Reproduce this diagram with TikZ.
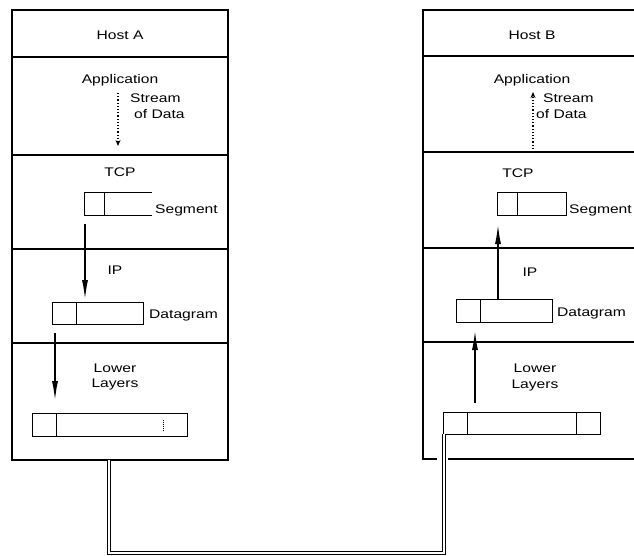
\documentclass[tikz,border=0pt]{standalone}
\usepackage{fontspec}
\setmainfont{Liberation Sans}[FakeStretch=1.25]
\usetikzlibrary{arrows.meta}
\begin{document}
\begin{tikzpicture}[x=1pt,y=-1pt,
  frame/.style={line width=1.1pt},
  divider/.style={line width=1.4pt},
  pkt/.style={line width=1pt, minimum height=22pt, inner sep=0pt, outer sep=0pt, anchor=north west},
  flow/.style={line width=2.2pt, -{Latex[length=22pt,width=6pt]}},
  stream/.style={line width=1.2pt, dotted, -{Stealth[length=6pt,width=5pt]}},
  lbl/.style={font=\fontsize{12.5}{14}\selectfont, inner sep=0pt},
  cable/.style={line width=0.9pt, double, double distance=2.2pt},
]
\useasboundingbox (0,0) rectangle (634,556);

% ---------- Host A ----------
\node[draw, frame, minimum width=216pt, minimum height=450pt, anchor=north west, inner sep=0pt, outer sep=0pt] (hostA) at (12,10) {};
\draw[divider] (12,57) -- (228,57);
\draw[divider] (12,155) -- (228,155);
\draw[divider] (12,249) -- (228,249);
\draw[divider] (12,343) -- (228,343);

\node[lbl] (hAt) at (120,35) {Host A};
\node[lbl] (hAapp) at (120,80) {Application};
\node[lbl, anchor=west] (hAs1) at (130,98) {Stream};
\node[lbl, anchor=west] (hAs2) at (134,114) {of Data};
\node[lbl] (hAtcp) at (120,172) {TCP};
\node[lbl] (hAip) at (115,270) {IP};
\node[lbl] (hAl1) at (115,368) {Lower};
\node[lbl] (hAl2) at (115,384) {Layers};

\coordinate (sAtop) at (118,93);
\coordinate (sAbot) at (118,146);
\draw[stream] (sAtop) -- (sAbot);

% segment A (open right side)
\node[pkt, minimum width=68pt] (segA) at (84,193) {};
\draw[pkt] (segA.north east) -- (segA.north west) -- (segA.south west) -- (segA.south east);
\draw[pkt] ([xshift=20pt]segA.north west) -- ([xshift=20pt]segA.south west);
\node[lbl, anchor=west] (segAl) at (155,210) {Segment};

% datagram A
\node[pkt, draw, minimum width=91pt] (dgA) at (52,302) {};
\draw[pkt] ([xshift=24pt]dgA.north west) -- ([xshift=24pt]dgA.south west);
\node[lbl, anchor=west] (dgAl) at (149,315) {Datagram};

% frame A
\node[pkt, draw, minimum width=155pt, minimum height=23pt] (frA) at (32,413) {};
\draw[pkt] ([xshift=24pt]frA.north west) -- ([xshift=24pt]frA.south west);
\draw[pkt, densely dotted] ([xshift=131pt]frA.north west) ++(0,7) -- ++(0,12);

\draw[flow, shorten <=9pt] (85,0 |- segA.south) -- (85,0 |- dgA.north);
\draw[flow, shorten <=9pt, shorten >=10pt] (55,0 |- dgA.south) -- (55,0 |- frA.north);

% ---------- Host B ----------
\coordinate (hBnotch) at (437,459);
\draw[frame] (hBnotch) -- (423,459) -- (423,10) -- (640,10);
\draw[frame] (448,459) -- (640,459);
\draw[divider] (423,56) -- (640,56);
\draw[divider] (423,152) -- (640,152);
\draw[divider] (423,248) -- (640,248);
\draw[divider] (423,342) -- (640,342);

\node[lbl] (hBt) at (532,35) {Host B};
\node[lbl] (hBapp) at (532,80) {Application};
\node[lbl, anchor=west] (hBs1) at (543,98) {Stream};
\node[lbl, anchor=west] (hBs2) at (536,114) {of Data};
\node[lbl] (hBtcp) at (518,173) {TCP};
\node[lbl] (hBip) at (530,272) {IP};
\node[lbl] (hBl1) at (535,368) {Lower};
\node[lbl] (hBl2) at (535,385) {Layers};

\coordinate (sBtop) at (533,92);
\coordinate (sBbot) at (533,149);
\draw[stream] (sBbot) -- (sBtop);

% segment B
\node[pkt, draw, minimum width=69pt] (segB) at (497,193) {};
\draw[pkt] ([xshift=20pt]segB.north west) -- ([xshift=20pt]segB.south west);
\node[lbl, anchor=west] (segBl) at (569,210) {Segment};

% datagram B
\node[pkt, draw, minimum width=96pt, minimum height=23pt] (dgB) at (456,299) {};
\draw[pkt] ([xshift=24pt]dgB.north west) -- ([xshift=24pt]dgB.south west);
\node[lbl, anchor=west] (dgBl) at (557,313) {Datagram};

% frame B
\node[pkt, draw, minimum width=157pt] (frB) at (443,412) {};
\draw[pkt] ([xshift=24pt]frB.north west) -- ([xshift=24pt]frB.south west);
\draw[pkt] ([xshift=133pt]frB.north west) -- ([xshift=133pt]frB.south west);

\draw[flow, shorten >=7pt] (498,0 |- dgB.north) -- (498,0 |- segB.south);
\draw[flow, shorten <=9pt, shorten >=6pt] (475,0 |- frB.north) -- (475,0 |- dgB.south);

% ---------- cable ----------
\draw[cable] (109,0 |- hostA.south) -- (109,553) -- (444,553) -- (444,0 |- frB.south);
\end{tikzpicture}
\end{document}
